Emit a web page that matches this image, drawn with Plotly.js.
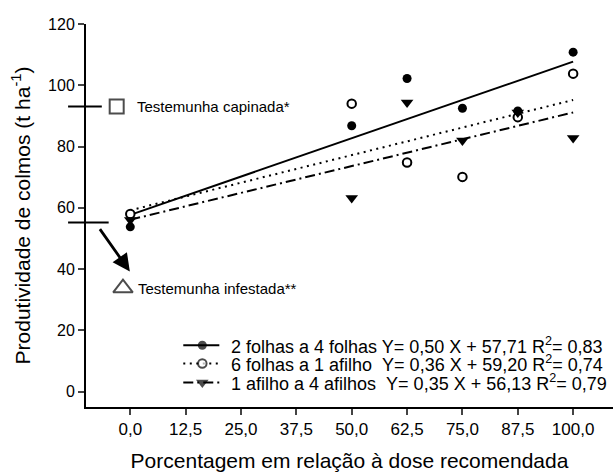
<!DOCTYPE html>
<html>
<head>
<meta charset="utf-8">
<script src="https://cdn.plot.ly/plotly-3.0.1.min.js"></script>
<style>html,body{margin:0;padding:0;background:#fff;}#chart{width:616px;height:473px;}</style>
</head>
<body>
<div id="chart"></div>
<script>
// Doses (% of recommended)
var doses = [0, 50, 62.5, 75, 87.5, 100];
var xTickVals = [0, 12.5, 25, 37.5, 50, 62.5, 75, 87.5, 100];
var xTickText = ["0,0", "12,5", "25,0", "37,5", "50,0", "62,5", "75,0", "87,5", "100,0"];
var yTickVals = [0, 20, 40, 60, 80, 100, 120];

// Observed yields (t/ha)
var y2folhas = [53.8, 86.8, 102.2, 92.5, 91.6, 110.8];
var y6folhas = [58.0, 94.0, 74.8, 70.1, 89.6, 103.8];
var y1afilho = [56.0, 63.2, 94.4, 82.0, 91.1, 82.8];

// Fitted regression lines (end points)
var fitX = [0, 100];
var fit2folhas = [57.71, 107.71];
var fit6folhas = [59.20, 95.20];
var fit1afilho = [56.13, 91.13];

var legendNames = [
  "2 folhas a 4 folhas Y= 0,50 X + 57,71 R<sup>2</sup>= 0,83",
  "6 folhas a 1 afilho \u00a0Y= 0,36 X + 59,20 R<sup>2</sup>= 0,74",
  "1 afilho a 4 afilhos \u00a0Y= 0,35 X + 56,13 R<sup>2</sup>= 0,79"
];

// Controls
var controlLabels = ["Testemunha capinada*", "Testemunha infestada**"];
var controlValues = [93.1, 33.8];

var font = '"Liberation Sans", Arial, Helvetica, sans-serif';
var dashDot = "10px,4px,2px,4px";
var dotted = "2px,4.5px";

// legend key geometry (paper fractions of the plot area)
var keyX = [0.1846, 0.2207, 0.2530];
var keyRows = [0.1612, 0.1134, 0.0638];
var keyTextX = 0.2719;

var styles = [
  {dash: "solid", marker: {symbol: "circle", size: 9, color: "#000", line: {width: 0}}},
  {dash: dotted, marker: {symbol: "circle", size: 8.5, color: "#fff", line: {width: 2, color: "#000"}}},
  {dash: dashDot, marker: {symbol: "triangle-down", size: 11, color: "#000", line: {width: 0}}}
];
var seriesY = [y2folhas, y6folhas, y1afilho];
var fitY = [fit2folhas, fit6folhas, fit1afilho];

var traces = [];
// fitted lines
for (var i = 0; i < 3; i++) {
  traces.push({x: fitX, y: fitY[i], mode: "lines", line: {color: "#000", width: 2, dash: styles[i].dash},
               showlegend: false, hoverinfo: "skip"});
}
// observed points (draw order: open circles, triangles, filled circles)
[1, 2, 0].forEach(function (i) {
  traces.push({x: doses, y: seriesY[i], mode: "markers", marker: styles[i].marker, showlegend: false,
               name: legendNames[i]});
});
// control markers
traces.push({x: [-3.07, -1.65], y: controlValues, mode: "markers", showlegend: false, cliponaxis: false,
  marker: {symbol: ["square-open", "triangle-up-open"], size: [14, 17], color: "#000", line: {width: 2, color: "#000"}}});
// legend keys (overlay axes in plot-fraction units)
for (var k = 0; k < 3; k++) {
  var mk = JSON.parse(JSON.stringify(styles[k].marker));
  mk.size = [0, styles[k].marker.size, 0];
  traces.push({x: keyX, y: [keyRows[k], keyRows[k], keyRows[k]], xaxis: "x2", yaxis: "y2",
    mode: "lines+markers", cliponaxis: false, showlegend: false, hoverinfo: "skip",
    line: {color: "#000", width: 2, dash: styles[k].dash}, marker: mk});
}

var annotations = [
  {x: 1.0, y: controlValues[0], xref: "x", yref: "y", text: controlLabels[0], showarrow: false, xanchor: "left",
   font: {size: 15, family: font, color: "#000"}},
  {x: 1.3, y: controlValues[1], xref: "x", yref: "y", text: controlLabels[1], showarrow: false, xanchor: "left",
   font: {size: 15, family: font, color: "#000"}},
  {x: -0.1, y: 39.2, xref: "x", yref: "y", text: "", showarrow: true, ax: -31, ay: -44,
   arrowhead: 2, arrowsize: 1.25, arrowwidth: 2.8, arrowcolor: "#000", standoff: 0}
];
for (var r = 0; r < 3; r++) {
  annotations.push({x: keyTextX, y: keyRows[r], xref: "paper", yref: "paper", text: legendNames[r],
    showarrow: false, xanchor: "left", yanchor: "middle", font: {size: 18, family: font, color: "#000"}});
}

var layout = {
  width: 616, height: 473,
  margin: {l: 86, r: 3, t: 24, b: 66},
  paper_bgcolor: "#fff", plot_bgcolor: "#fff",
  font: {family: font, color: "#000", size: 16},
  showlegend: false,
  xaxis: {range: [-10, 109], tickvals: xTickVals, ticktext: xTickText, ticks: "outside", ticklen: 6, tickwidth: 2,
          showline: true, linewidth: 2, linecolor: "#000", showgrid: false, zeroline: false,
          tickfont: {size: 17, family: font},
          title: {text: "Porcentagem em relação à dose recomendada", font: {size: 21, family: font}, standoff: 15}},
  yaxis: {range: [-5, 120], tickvals: yTickVals, ticks: "outside", ticklen: 6, tickwidth: 2,
          showline: true, linewidth: 2, linecolor: "#000", showgrid: false, zeroline: false,
          tickfont: {size: 16, family: font},
          title: {text: "Produtividade de colmos (t ha<sup>-1</sup>)", font: {size: 21, family: font}, standoff: 12}},
  xaxis2: {overlaying: "x", anchor: "y2", range: [0, 1], visible: false, fixedrange: true},
  yaxis2: {overlaying: "y", anchor: "x2", range: [0, 1], visible: false, fixedrange: true},
  shapes: [
    {type: "line", xref: "paper", yref: "y", x0: -0.034, x1: 0.030, y0: controlValues[0], y1: controlValues[0], line: {color: "#000", width: 2}},
    {type: "line", xref: "paper", yref: "y", x0: -0.034, x1: 0.043, y0: 55.2, y1: 55.2, line: {color: "#000", width: 2}}
  ],
  annotations: annotations
};

Plotly.newPlot("chart", traces, layout, {displayModeBar: false, staticPlot: true});
</script>
</body>
</html>
